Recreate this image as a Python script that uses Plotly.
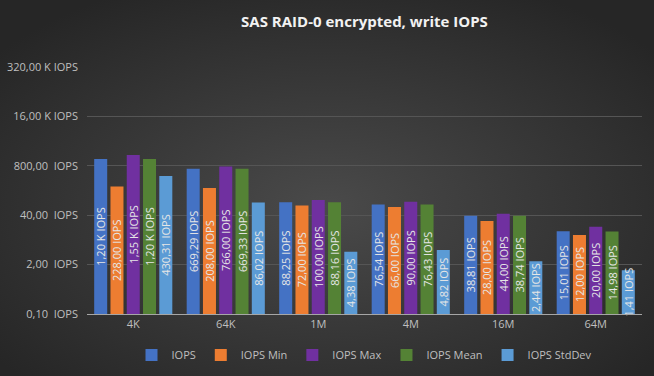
import plotly.graph_objects as go
import math
import urllib.parse

categories = ["4K", "64K", "1M", "4M", "16M", "64M"]
series_names = ["IOPS", "IOPS Min", "IOPS Max", "IOPS Mean", "IOPS StdDev"]
iops = [1200, 669.29, 88.25, 76.54, 38.81, 15.01]
iops_min = [228, 208, 72, 66, 28, 12]
iops_max = [1550, 766, 100, 90, 44, 20]
iops_mean = [1200, 669.33, 88.16, 76.43, 38.74, 14.98]
iops_std = [430.31, 86.02, 4.38, 4.82, 2.44, 1.41]
tick_vals = [0.1, 2, 40, 800, 16000, 320000]
tick_text = ["0,10  IOPS", "2,00  IOPS", "40,00  IOPS", "800,00  IOPS", "16,00 K IOPS", "320,00 K IOPS"]

colors = ["#4472C4", "#ED7D31", "#7030A0", "#548235", "#5B9BD5"]


def fmt(v):
    if v >= 1000:
        return f"{v/1000:.2f}".replace(".", ",") + " K IOPS"
    return f"{v:.2f}".replace(".", ",") + " IOPS"


fig = go.Figure()
for name, vals, col in zip(series_names, [iops, iops_min, iops_max, iops_mean, iops_std], colors):
    fig.add_trace(go.Bar(
        name=name, x=categories, y=vals, marker=dict(color=col, line=dict(width=0)),
        text=[fmt(v) for v in vals], textposition="inside", insidetextanchor="middle",
        textangle=-90, constraintext="none", cliponaxis=False,
        textfont=dict(color="#e6e6e6", size=11, family="Open Sans"),
    ))

W, H = 654, 376
L, R, T, B = 87, 12, 67, 62
pw, ph = W - L - R, H - T - B
svg = ("<svg xmlns='http://www.w3.org/2000/svg' width='654' height='376'>"
       "<defs><radialGradient id='g' cx='50%' cy='55%' r='65%'>"
       "<stop offset='0' stop-color='#4a4a4a'/><stop offset='1' stop-color='#262626'/>"
       "</radialGradient></defs><rect width='654' height='376' fill='url(#g)'/></svg>")
uri = "data:image/svg+xml;charset=utf-8," + urllib.parse.quote(svg)

fig.update_layout(
    width=W, height=H,
    paper_bgcolor="#383838", plot_bgcolor="rgba(0,0,0,0)",
    images=[dict(source=uri, xref="paper", yref="paper", x=-L / pw, y=1 + T / ph, sizex=W / pw, sizey=H / ph,
                 xanchor="left", yanchor="top", layer="below", sizing="stretch")],
    margin=dict(l=L, r=R, t=T, b=B, autoexpand=False),
    barmode="group", bargap=0.12, bargroupgap=0.2,
    title=dict(text="<b>SAS RAID-0 encrypted, write IOPS</b>", x=0.5, xref="paper", y=1 - 22 / H, yref="container",
               xanchor="center", yanchor="middle", font=dict(family="Open Sans", size=15, color="#f2f2f2")),
    font=dict(family="Open Sans", color="#bfbfbf", size=11),
    xaxis=dict(showgrid=False, showline=True, linecolor="#a6a6a6", linewidth=1,
               tickfont=dict(size=11, color="#bfbfbf"), ticks=""),
    yaxis=dict(type="log", range=[math.log10(0.1), math.log10(320000)], tickvals=tick_vals, ticktext=tick_text,
               showgrid=True, gridcolor="#555555", gridwidth=1, zeroline=False, ticks="",
               tickfont=dict(size=11, color="#bfbfbf"), ticklabelstandoff=8),
    legend=dict(orientation="h", x=0.5, xanchor="center", xref="paper", y=(H - 355) / H, yref="container",
                yanchor="middle", font=dict(size=11, color="#bfbfbf"), itemwidth=30, bgcolor="rgba(0,0,0,0)"),
)
fig.write_html("out.html", config={"displayModeBar": False})
with open("out.html", encoding="utf-8") as f:
    html = f.read()
html = html.replace("<head>", "<head><style>html,body{margin:0;padding:0;background:#262626;overflow:hidden;}</style>", 1)
with open("out.html", "w", encoding="utf-8") as f:
    f.write(html)
